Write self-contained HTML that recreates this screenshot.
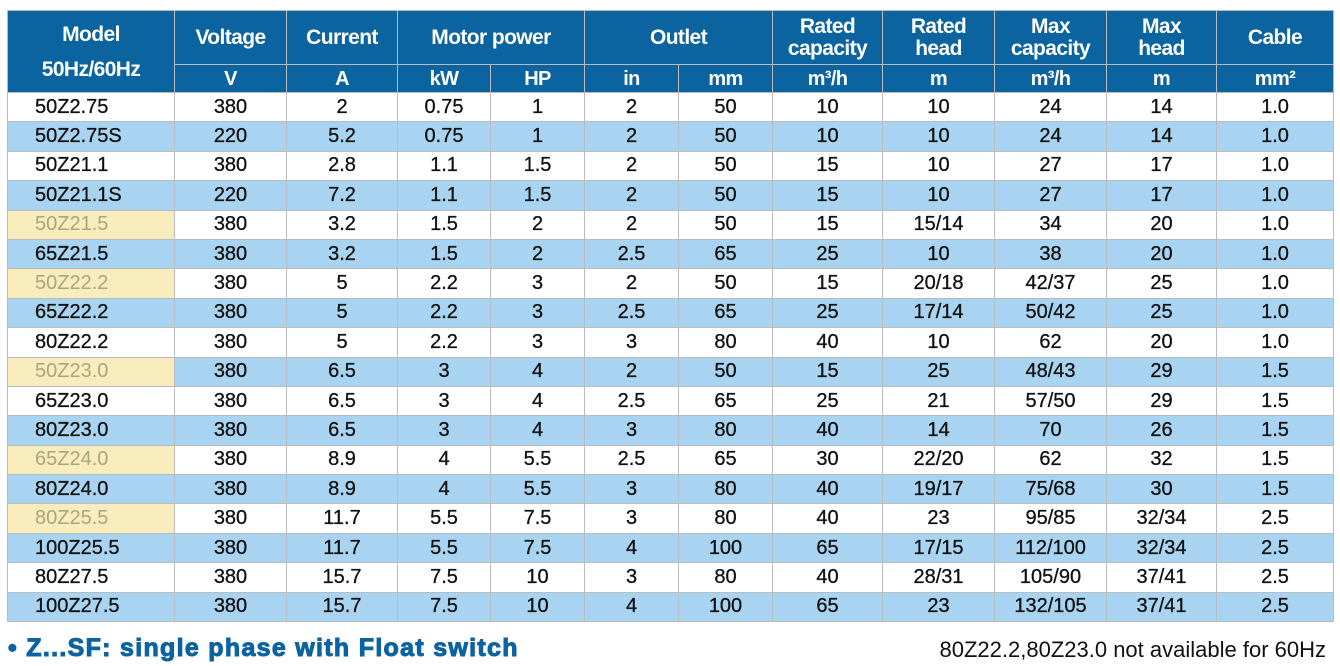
<!DOCTYPE html>
<html><head><meta charset="utf-8"><style>
html,body{margin:0;padding:0;background:#fff;width:1340px;height:666px;overflow:hidden}
table{position:absolute;left:7px;top:10px;border-collapse:collapse;table-layout:fixed;font-family:"Liberation Sans",Arial,sans-serif;}
td,th{border:1.5px solid #b9bcbf;text-align:center;padding:0;font-size:20px;color:#111;overflow:hidden;white-space:nowrap}
td{-webkit-text-stroke:0.3px #111}
th{background:#0b63a0;color:#fff;font-weight:bold;letter-spacing:-0.6px;line-height:22px;font-size:21px}
tr.h1 th{height:53px}
tr.h2 th{height:27px;font-size:20px}
td{height:28.4px}
tr.b td{background:#a9d4f1}
td.m{text-align:left;padding-left:27px}
td.y{background:#f8ecbd !important;color:#a8a67e;-webkit-text-stroke:0}
.note{position:absolute;top:634px;left:8px;font-family:"Liberation Sans",Arial,sans-serif;font-weight:bold;font-size:25px;color:#0b63a0;letter-spacing:1.3px;-webkit-text-stroke:1px #0b63a0}
.note2{position:absolute;top:637px;right:14px;font-family:"Liberation Sans",Arial,sans-serif;font-size:22px;color:#111}
</style></head><body>
<table>
<colgroup><col style="width:167px"><col style="width:112px"><col style="width:111px"><col style="width:93px"><col style="width:94px"><col style="width:94px"><col style="width:94px"><col style="width:110px"><col style="width:112px"><col style="width:112px"><col style="width:110px"><col style="width:117px"></colgroup>
<tr class="h1"><th rowspan="2" style="line-height:35px">Model<br>50Hz/60Hz</th><th>Voltage</th><th>Current</th><th colspan="2">Motor power</th><th colspan="2">Outlet</th><th>Rated<br>capacity</th><th>Rated<br>head</th><th>Max<br>capacity</th><th>Max<br>head</th><th>Cable</th></tr>
<tr class="h2"><th>V</th><th>A</th><th>kW</th><th>HP</th><th>in</th><th>mm</th><th>m³/h</th><th>m</th><th>m³/h</th><th>m</th><th>mm²</th></tr>
<tr><td class="m">50Z2.75</td><td>380</td><td>2</td><td>0.75</td><td>1</td><td>2</td><td>50</td><td>10</td><td>10</td><td>24</td><td>14</td><td>1.0</td></tr>
<tr class="b"><td class="m">50Z2.75S</td><td>220</td><td>5.2</td><td>0.75</td><td>1</td><td>2</td><td>50</td><td>10</td><td>10</td><td>24</td><td>14</td><td>1.0</td></tr>
<tr><td class="m">50Z21.1</td><td>380</td><td>2.8</td><td>1.1</td><td>1.5</td><td>2</td><td>50</td><td>15</td><td>10</td><td>27</td><td>17</td><td>1.0</td></tr>
<tr class="b"><td class="m">50Z21.1S</td><td>220</td><td>7.2</td><td>1.1</td><td>1.5</td><td>2</td><td>50</td><td>15</td><td>10</td><td>27</td><td>17</td><td>1.0</td></tr>
<tr><td class="m y">50Z21.5</td><td>380</td><td>3.2</td><td>1.5</td><td>2</td><td>2</td><td>50</td><td>15</td><td>15/14</td><td>34</td><td>20</td><td>1.0</td></tr>
<tr class="b"><td class="m">65Z21.5</td><td>380</td><td>3.2</td><td>1.5</td><td>2</td><td>2.5</td><td>65</td><td>25</td><td>10</td><td>38</td><td>20</td><td>1.0</td></tr>
<tr><td class="m y">50Z22.2</td><td>380</td><td>5</td><td>2.2</td><td>3</td><td>2</td><td>50</td><td>15</td><td>20/18</td><td>42/37</td><td>25</td><td>1.0</td></tr>
<tr class="b"><td class="m">65Z22.2</td><td>380</td><td>5</td><td>2.2</td><td>3</td><td>2.5</td><td>65</td><td>25</td><td>17/14</td><td>50/42</td><td>25</td><td>1.0</td></tr>
<tr><td class="m">80Z22.2</td><td>380</td><td>5</td><td>2.2</td><td>3</td><td>3</td><td>80</td><td>40</td><td>10</td><td>62</td><td>20</td><td>1.0</td></tr>
<tr class="b"><td class="m y">50Z23.0</td><td>380</td><td>6.5</td><td>3</td><td>4</td><td>2</td><td>50</td><td>15</td><td>25</td><td>48/43</td><td>29</td><td>1.5</td></tr>
<tr><td class="m">65Z23.0</td><td>380</td><td>6.5</td><td>3</td><td>4</td><td>2.5</td><td>65</td><td>25</td><td>21</td><td>57/50</td><td>29</td><td>1.5</td></tr>
<tr class="b"><td class="m">80Z23.0</td><td>380</td><td>6.5</td><td>3</td><td>4</td><td>3</td><td>80</td><td>40</td><td>14</td><td>70</td><td>26</td><td>1.5</td></tr>
<tr><td class="m y">65Z24.0</td><td>380</td><td>8.9</td><td>4</td><td>5.5</td><td>2.5</td><td>65</td><td>30</td><td>22/20</td><td>62</td><td>32</td><td>1.5</td></tr>
<tr class="b"><td class="m">80Z24.0</td><td>380</td><td>8.9</td><td>4</td><td>5.5</td><td>3</td><td>80</td><td>40</td><td>19/17</td><td>75/68</td><td>30</td><td>1.5</td></tr>
<tr><td class="m y">80Z25.5</td><td>380</td><td>11.7</td><td>5.5</td><td>7.5</td><td>3</td><td>80</td><td>40</td><td>23</td><td>95/85</td><td>32/34</td><td>2.5</td></tr>
<tr class="b"><td class="m">100Z25.5</td><td>380</td><td>11.7</td><td>5.5</td><td>7.5</td><td>4</td><td>100</td><td>65</td><td>17/15</td><td>112/100</td><td>32/34</td><td>2.5</td></tr>
<tr><td class="m">80Z27.5</td><td>380</td><td>15.7</td><td>7.5</td><td>10</td><td>3</td><td>80</td><td>40</td><td>28/31</td><td>105/90</td><td>37/41</td><td>2.5</td></tr>
<tr class="b"><td class="m">100Z27.5</td><td>380</td><td>15.7</td><td>7.5</td><td>10</td><td>4</td><td>100</td><td>65</td><td>23</td><td>132/105</td><td>37/41</td><td>2.5</td></tr>
</table>
<div class="note">• Z...SF: single phase with Float switch</div>
<div class="note2">80Z22.2,80Z23.0 not available for 60Hz</div>
</body></html>
